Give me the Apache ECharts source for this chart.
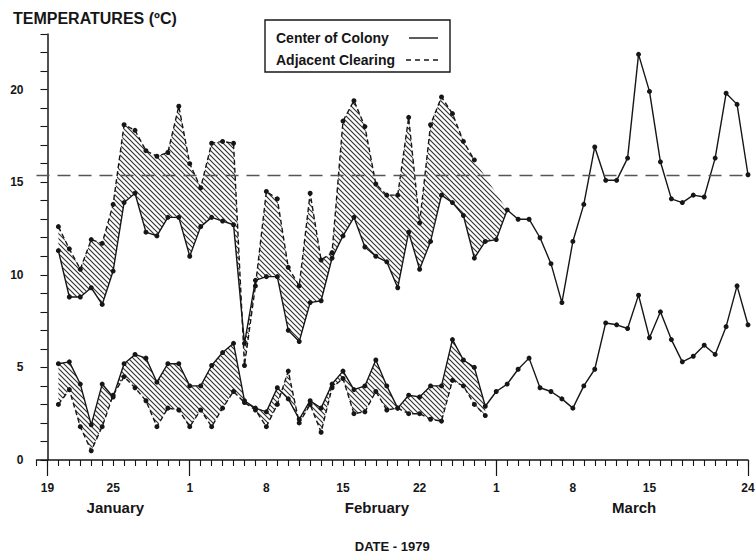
<!DOCTYPE html>
<html><head><meta charset="utf-8">
<script src="https://cdn.jsdelivr.net/npm/echarts@6/dist/echarts.min.js"></script>
<style>html,body{margin:0;padding:0;background:#fff}#c{width:755px;height:556px}</style>
</head><body><div id="c"></div>
<script>
// Day index: 0 = January 19, 1979. Series start at day 1 (January 20).
const firstDay = 1;
const colonyMax = [
  11.3, 8.8, 8.8, 9.3, 8.4, 10.2, 13.9, 14.4, 12.3, 12.1,
  13.1, 13.1, 11.0, 12.6, 13.1, 12.9, 12.7, 6.3, 9.7, 9.9,
  9.9, 7.0, 6.4, 8.5, 8.6, 10.9, 12.1, 13.1, 11.5, 11.0,
  10.7, 9.3, 12.3, 10.3, 11.8, 14.3, 13.9, 13.2, 10.9, 11.8,
  11.9, 13.5, 13.0, 13.0, 12.0, 10.6, 8.5, 11.8, 13.8, 16.9,
  15.1, 15.1, 16.3, 21.9, 19.9, 16.1, 14.1, 13.9, 14.3, 14.2,
  16.3, 19.8, 19.2, 15.4
];
const clearingMax = [
  12.6, 11.4, 10.3, 11.9, 11.7, 13.8, 18.1, 17.8, 16.7, 16.4,
  16.6, 19.1, 16.0, 14.7, 17.1, 17.2, 17.1, 5.1, 9.4, 14.5,
  14.1, 10.4, 9.4, 14.4, 10.8, 11.2, 18.3, 19.4, 18.0, 14.9,
  14.3, 14.3, 18.5, 12.8, 18.1, 19.6, 18.7, 17.2, 16.2
];
const colonyMin = [
  5.2, 5.3, 4.1, 1.9, 4.1, 3.4, 5.2, 5.7, 5.5, 4.2,
  5.2, 5.2, 4.0, 4.0, 5.1, 5.8, 6.3, 3.2, 2.8, 2.6,
  3.9, 3.3, 2.2, 3.2, 2.8, 4.1, 4.8, 3.8, 4.0, 5.4,
  4.0, 2.8, 3.5, 3.4, 4.0, 4.0, 6.5, 5.4, 5.0, 2.9,
  3.7, 4.1, 4.9, 5.5, 3.9, 3.7, 3.3, 2.8, 4.0, 4.9,
  7.4, 7.3, 7.1, 8.9, 6.6, 8.0, 6.5, 5.3, 5.6, 6.2,
  5.7, 7.2, 9.4, 7.3
];
const clearingMin = [
  3.0, 3.8, 1.8, 0.5, 1.8, 3.5, 4.5, 3.9, 3.2, 1.8,
  2.8, 2.7, 1.8, 2.7, 1.8, 2.8, 3.7, 3.1, 2.7, 1.8,
  3.0, 4.8, 2.0, 3.0, 1.5, 3.9, 4.4, 2.5, 2.6, 3.7,
  2.7, 2.8, 2.5, 2.5, 2.2, 2.1, 4.3, 4.0, 3.0, 2.4
];
// the hatched area of the maxima closes onto the colony curve at this day
const maxHatchCloseDay = 42;
const referenceLevel = 15.4;
const tickDays = [0, 6, 13, 20, 27, 34, 41, 48, 55, 64];
const tickLabels = ['19', '25', '1', '8', '15', '22', '1', '8', '15', '24'];
const monthStartDays = [0, 13, 41, 64];
const monthLabelDays = [6.2, 30.1, 53.6];
const monthLabels = ['January', 'February', 'March'];
const yLabelValues = [0, 5, 10, 15, 20];

const ink = '#161616';
const font = '"Liberation Sans", Arial, sans-serif';

function hatchCanvas() {
  const s = 5, c = document.createElement('canvas');
  c.width = s; c.height = s;
  const g = c.getContext('2d');
  g.strokeStyle = '#333'; g.lineWidth = 1.15;
  g.beginPath();
  g.moveTo(-1, -1); g.lineTo(s + 1, s + 1);
  g.moveTo(-1, s - 1); g.lineTo(1, s + 1);
  g.moveTo(s - 1, -1); g.lineTo(s + 1, 1);
  g.stroke();
  return c;
}
const hatch = { image: hatchCanvas(), repeat: 'repeat', imageWidth: 5, imageHeight: 5 };

const toPairs = arr => arr.map((v, i) => [firstDay + i, v]);

function band(topPairs, bottomPairs) {
  return {
    type: 'custom', coordinateSystem: 'cartesian2d', silent: true, z: 1,
    data: [[topPairs[0][0], topPairs[0][1]]],
    renderItem: (params, api) => {
      const pts = topPairs.map(p => api.coord(p))
        .concat(bottomPairs.slice().reverse().map(p => api.coord(p)));
      return { type: 'polygon', shape: { points: pts }, style: { fill: hatch, stroke: null } };
    }
  };
}

function lineSeries(name, arr, dashed, extra) {
  return Object.assign({
    type: 'line', name, data: toPairs(arr), symbol: 'circle', symbolSize: 5, showSymbol: true,
    itemStyle: { color: ink }, lineStyle: { color: ink, width: 1.4, type: dashed ? [5, 3] : 'solid' },
    z: 3, animation: false
  }, extra || {});
}

const chart = echarts.init(document.getElementById('c'), null, { renderer: 'svg' });
const xBase = { type: 'value', min: -1, max: 64, gridIndex: 0, position: 'bottom', offset: 0, splitLine: { show: false } };
chart.setOption({
  animation: false,
  backgroundColor: '#fff',
  title: { text: 'TEMPERATURES (ºC)', left: 8, top: 5,
    textStyle: { fontFamily: font, fontSize: 16, fontWeight: 'bold', color: ink } },
  grid: { left: 36.5, right: 7, top: 34, bottom: 96, containLabel: false, outerBoundsMode: 'none' },
  xAxis: [
    Object.assign({}, xBase, {
      interval: 1,
      axisLine: { show: true, lineStyle: { color: ink, width: 1.5 } },
      axisTick: { show: true, length: 6, lineStyle: { color: ink, width: 1.1 } },
      axisLabel: { customValues: tickDays, formatter: v => tickLabels[tickDays.indexOf(v)] || '',
        margin: 22, fontFamily: font, fontSize: 12, fontWeight: 'bold', color: ink },
      name: 'DATE - 1979', nameLocation: 'middle', nameGap: 80,
      nameTextStyle: { fontFamily: font, fontSize: 13, fontWeight: 'bold', color: ink }
    }),
    Object.assign({}, xBase, {
      axisLine: { show: false },
      axisTick: { show: true, customValues: monthStartDays, length: 16, lineStyle: { color: ink, width: 1.2 } },
      axisLabel: { show: false }
    }),
    Object.assign({}, xBase, {
      axisLine: { show: false }, axisTick: { show: false },
      axisLabel: { customValues: monthLabelDays, formatter: v => monthLabels[monthLabelDays.indexOf(v)] || '',
        margin: 40, fontFamily: font, fontSize: 15, fontWeight: 'bold', color: ink }
    })
  ],
  yAxis: {
    type: 'value', min: 0, max: 23, interval: 1,
    axisLine: { show: true, lineStyle: { color: ink, width: 1.5 } },
    axisTick: { show: true, length: 7, lineStyle: { color: ink, width: 1.1 } },
    axisLabel: { customValues: yLabelValues, margin: 13, fontFamily: font, fontSize: 12, fontWeight: 'bold', color: ink },
    splitLine: { show: false }
  },
  graphic: [
    { type: 'rect', shape: { x: 265, y: 20, width: 185, height: 52 },
      style: { fill: '#fff', stroke: ink, lineWidth: 1.4 }, z: 10 },
    { type: 'text', x: 276, y: 38, style: { text: 'Center of Colony', fill: ink,
      font: 'bold 14px ' + font, verticalAlign: 'middle' }, z: 11 },
    { type: 'text', x: 276, y: 60, style: { text: 'Adjacent Clearing', fill: ink,
      font: 'bold 14px ' + font, verticalAlign: 'middle' }, z: 11 },
    { type: 'line', shape: { x1: 409, y1: 38, x2: 438, y2: 38 }, style: { stroke: ink, lineWidth: 1.4 }, z: 11 },
    { type: 'line', shape: { x1: 406, y1: 60, x2: 438, y2: 60 }, style: { stroke: ink, lineWidth: 1.4, lineDash: [5, 4] }, z: 11 }
  ],
  series: [
    band(toPairs(clearingMax), toPairs(colonyMax).slice(0, maxHatchCloseDay - firstDay + 1)),
    band(toPairs(colonyMin).slice(0, clearingMin.length), toPairs(clearingMin)),
    lineSeries('Center of Colony', colonyMax, false, {
      markLine: { symbol: 'none', silent: true, label: { show: false }, animation: false,
        lineStyle: { type: [13, 8], color: '#555', width: 1.3 }, data: [{ yAxis: referenceLevel }] }
    }),
    lineSeries('Adjacent Clearing', clearingMax, true),
    lineSeries('Center of Colony', colonyMin, false),
    lineSeries('Adjacent Clearing', clearingMin, true)
  ]
});
</script>
</body></html>
